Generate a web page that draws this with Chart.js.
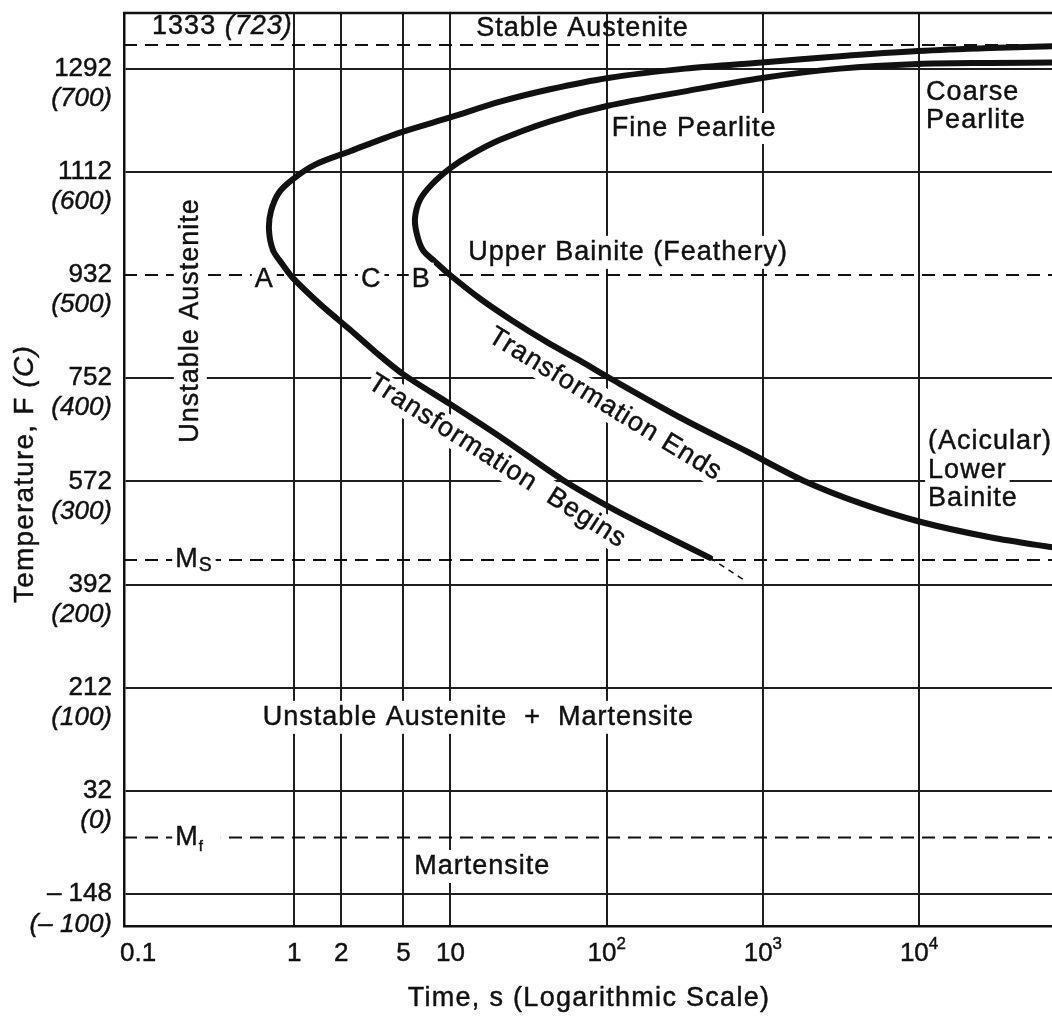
<!DOCTYPE html>
<html>
<head>
<meta charset="utf-8">
<title>TTT diagram</title>
<script src="https://cdn.jsdelivr.net/npm/chart.js@4.4.1/dist/chart.umd.min.js"></script>
<style>
  html, body { margin: 0; padding: 0; background: #fff; }
  canvas { display: block; }
</style>
</head>
<body>
<canvas id="ttt" width="1052" height="1018"></canvas>
<script>
// ---- Axis ticks -------------------------------------------------------
const timeTicks = [0.1, 1, 2, 5, 10, 100, 1000, 10000];
const timeTickLabels = ['0.1', '1', '2', '5', '10', '10|2', '10|3', '10|4'];
const tempTicksC = [700, 600, 500, 400, 300, 200, 100, 0, -100];
const tempLabelsF = ['1292', '1112', '932', '752', '572', '392', '212', '32', '\u2013 148'];
const tempLabelsC = ['(700)', '(600)', '(500)', '(400)', '(300)', '(200)', '(100)', '(0)', '(\u2013 100)'];

// ---- Transformation curves (time in s, temperature in °C) -------------
// ordered from the long-time upper branch, round the nose, down the lower branch
const beginTime = [80000, 28500, 9850, 3120, 990, 318, 102, 43.4, 20.8, 10.08, 4.75, 2.28, 1.36, 0.982, 0.799, 0.710, 0.689, 0.731, 0.835, 0.982, 1.46, 2.28, 3.34, 4.97, 9.94, 22.4, 51.8, 105, 220, 459];
const beginTemp = [722, 720, 717, 712, 706, 700, 691, 680, 668, 653, 638, 620, 607, 593, 580, 562, 544, 524, 511, 497, 472, 447, 425, 404, 375, 340, 302, 275, 250, 226];
const beginTailTime = [459, 769];
const beginTailTemp = [226, 204];
const endTime = [80000, 28500, 9850, 3120, 990, 318, 102, 43.4, 20.8, 13.3, 10.08, 7.62, 6.39, 5.93, 6.11, 6.67, 7.96, 9.94, 15.5, 24.8, 41.5, 67.5, 105, 295, 792, 1808, 4190, 10140, 28500, 80000];
const endTemp = [706, 705.5, 704.5, 700, 691, 678, 664, 649, 631, 616, 604, 588, 573, 555, 539, 524, 513, 500, 477, 456, 435, 417, 400, 362, 329, 301, 279, 261, 246, 235];

// ---- Reference temperatures (°C) --------------------------------------
const eutectoidC = 723;
const boundaryC = 500;
const msC = 224;
const mfC = -45;

// ---- Axis ranges --------------------------------------------------------
const X_MIN = 0.0813, X_MAX = 71000;
const Y_MIN = -130.7, Y_MAX = 753.9;

const INK = '#111';
const GRID = '#1e1e1e';
const FONT = '"Liberation Sans", Arial, Helvetica, sans-serif';
const LABEL_SIZE = 27;
const TICK_SIZE = 26;

const toPoints = (xs, ys) => xs.map((x, i) => ({ x: x, y: ys[i] }));
const hLine = y => [{ x: X_MIN, y: y }, { x: X_MAX * 3, y: y }];

// Region labels, placed in data coordinates (time, °C)
const annotations = [
  { runs: [{ t: 'Stable Austenite' }], x: 70, y: 739, align: 'center' },
  { runs: [{ t: '1333 ' }, { t: '(723)', italic: true }], x: 0.123, y: 741, align: 'left' },
  { runs: [{ t: 'Fine Pearlite' }], x: 108, y: 642, align: 'left', bg: true, pad: 2 },
  { runs: [{ t: 'Coarse' }], x: 11100, y: 677, align: 'left', bg: true },
  { runs: [{ t: 'Pearlite' }], x: 11100, y: 650, align: 'left', bg: true },
  { runs: [{ t: 'Upper Bainite (Feathery)' }], x: 13, y: 522, align: 'left', bg: true },
  { runs: [{ t: 'Unstable Austenite' }], x: 0.216, y: 456, align: 'center', angle: -90, bg: true },
  { runs: [{ t: 'A' }], x: 0.643, y: 496, align: 'center', bg: true },
  { runs: [{ t: 'C' }], x: 3.11, y: 496, align: 'center', bg: true },
  { runs: [{ t: 'B' }], x: 6.5, y: 496, align: 'center', bg: true },
  { runs: [{ t: 'Transformation Ends' }], x: 97.8, y: 374.7, align: 'center', angle: 31.5, bg: true, pad: 1 },
  { runs: [{ t: 'Transformation  Begins' }], x: 19.9, y: 319.5, align: 'center', angle: 32.5, bg: true, pad: 1 },
  { runs: [{ t: '(Acicular)' }], x: 11430, y: 339, align: 'left', bg: true },
  { runs: [{ t: 'Lower' }], x: 11430, y: 311, align: 'left', bg: true },
  { runs: [{ t: 'Bainite' }], x: 11430, y: 283, align: 'left', bg: true },
  { runs: [{ t: 'M' }, { t: 'S', scale: 0.72, dy: 6 }], x: 0.173, y: msC, align: 'left', bg: true },
  { runs: [{ t: 'M' }, { t: 'f', scale: 0.55, dy: 9 }], x: 0.173, y: mfC, align: 'left', bg: true, padR: 14 },
  { runs: [{ t: 'Unstable Austenite  +  Martensite' }], x: 15.1, y: 71.5, align: 'center', bg: true },
  { runs: [{ t: 'Martensite' }], x: 16, y: -73, align: 'center', bg: true }
];

function runFont(r, size) {
  const s = size * (r.scale || 1);
  return (r.italic ? 'italic ' : '') + s.toFixed(1) + 'px ' + FONT;
}

// Draws a row of text runs (mixed italic / sub- and superscripts)
function drawRuns(ctx, runs, x, y, o) {
  const size = o.size || LABEL_SIZE;
  ctx.save();
  ctx.letterSpacing = (o.spacing === undefined ? 1 : o.spacing) + 'px';
  let w = 0;
  const widths = runs.map(r => {
    ctx.font = runFont(r, size);
    const m = ctx.measureText(r.t).width;
    w += m;
    return m;
  });
  ctx.translate(x, y);
  if (o.angle) ctx.rotate(o.angle * Math.PI / 180);
  let x0 = o.align === 'left' ? 0 : (o.align === 'right' ? -w : -w / 2);
  if (o.bg) {
    const p = o.pad === undefined ? 3 : o.pad;
    ctx.fillStyle = '#fff';
    ctx.fillRect(x0 - p, -size * 0.5 - p, w + 2 * p + (o.padR || 0), size + 2 * p);
  }
  ctx.fillStyle = INK;
  ctx.strokeStyle = INK;
  ctx.lineWidth = 0.45;
  ctx.textBaseline = 'middle';
  ctx.textAlign = 'left';
  runs.forEach((r, i) => {
    ctx.font = runFont(r, size);
    ctx.fillText(r.t, x0, r.dy || 0);
    ctx.strokeText(r.t, x0, r.dy || 0);
    x0 += widths[i];
  });
  ctx.restore();
}

const textPlugin = {
  id: 'diagramText',
  afterDatasetsDraw(chart) {
    const ctx = chart.ctx;
    const xs = chart.scales.x, ys = chart.scales.y;
    annotations.forEach(a => {
      drawRuns(ctx, a.runs, xs.getPixelForValue(a.x), ys.getPixelForValue(a.y), a);
    });
  },
  afterDraw(chart) {
    const ctx = chart.ctx;
    const area = chart.chartArea;
    const xs = chart.scales.x, ys = chart.scales.y;

    // top frame line
    ctx.save();
    ctx.strokeStyle = INK;
    ctx.lineWidth = 2.5;
    ctx.beginPath();
    ctx.moveTo(area.left - 1, area.top);
    ctx.lineTo(area.right + 2, area.top);
    ctx.stroke();
    ctx.restore();

    // temperature tick labels: °F on the line, °C in italics below
    tempTicksC.forEach((v, i) => {
      const py = ys.getPixelForValue(v);
      drawRuns(ctx, [{ t: tempLabelsF[i] }], area.left - 12, py, { align: 'right', size: TICK_SIZE, spacing: 0 });
      drawRuns(ctx, [{ t: tempLabelsC[i], italic: true }], area.left - 12, py + 30, { align: 'right', size: TICK_SIZE, spacing: 0 });
    });

    // time tick labels (powers of ten with superscripts)
    timeTicks.forEach((v, i) => {
      const px = Math.max(xs.getPixelForValue(v), area.left + 9);
      const parts = timeTickLabels[i].split('|');
      const runs = [{ t: parts[0] }];
      if (parts[1]) runs.push({ t: parts[1], scale: 0.65, dy: -10 });
      drawRuns(ctx, runs, px, area.bottom + 28, { align: 'center', size: TICK_SIZE, spacing: 0 });
    });

    // axis titles
    drawRuns(ctx, [{ t: 'Temperature, F ' }, { t: '(C)', italic: true }], 25, 474, { align: 'center', angle: -90, size: 28, spacing: 1.2 });
    drawRuns(ctx, [{ t: 'Time, s (Logarithmic Scale)' }], 589, 999, { align: 'center', spacing: 1.3 });
  }
};

const dashed = (data, dash, width) => ({
  data: data,
  showLine: true,
  borderColor: INK,
  borderWidth: width || 2,
  borderDash: dash || [13, 8],
  pointRadius: 0,
  tension: 0
});

// C-shaped transformation curves, smoothed with a cardinal spline
const cCurve = (label, data) => ({
  label: label,
  data: data,
  showLine: true,
  borderColor: INK,
  borderWidth: 6,
  pointRadius: 0,
  tension: 0.3,
  borderCapStyle: 'round',
  borderJoinStyle: 'round'
});

new Chart(document.getElementById('ttt'), {
  type: 'scatter',
  data: {
    datasets: [
      dashed(hLine(eutectoidC)),
      dashed(hLine(boundaryC)),
      dashed(hLine(msC)),
      dashed(hLine(mfC)),
      dashed(toPoints(beginTailTime, beginTailTemp), [6, 5], 1.6),
      cCurve('Transformation Begins', toPoints(beginTime, beginTemp)),
      cCurve('Transformation Ends', toPoints(endTime, endTemp))
    ]
  },
  options: {
    responsive: false,
    devicePixelRatio: 1,
    animation: false,
    events: [],
    layout: { padding: { left: 124, top: 13, right: 0, bottom: 92 } },
    plugins: { legend: { display: false }, tooltip: { enabled: false }, title: { display: false } },
    scales: {
      x: {
        type: 'logarithmic',
        min: X_MIN,
        max: X_MAX,
        afterBuildTicks: s => { s.ticks = timeTicks.map(v => ({ value: v })); },
        afterFit: s => { s.height = 0; },
        ticks: { display: false },
        grid: {
          color: c => (c.tick && c.tick.value === 0.1) ? 'rgba(0,0,0,0)' : GRID,
          lineWidth: 2,
          drawTicks: false
        },
        border: { display: true, color: INK, width: 2.5 }
      },
      y: {
        type: 'linear',
        min: Y_MIN,
        max: Y_MAX,
        afterBuildTicks: s => { s.ticks = tempTicksC.map(v => ({ value: v })); },
        afterFit: s => { s.width = 0; },
        ticks: { display: false },
        grid: {
          color: c => (c.tick && c.tick.value === boundaryC) ? 'rgba(0,0,0,0)' : GRID,
          lineWidth: 2,
          drawTicks: false
        },
        border: { display: true, color: INK, width: 2.5 }
      }
    }
  },
  plugins: [textPlugin]
});
</script>
</body>
</html>
